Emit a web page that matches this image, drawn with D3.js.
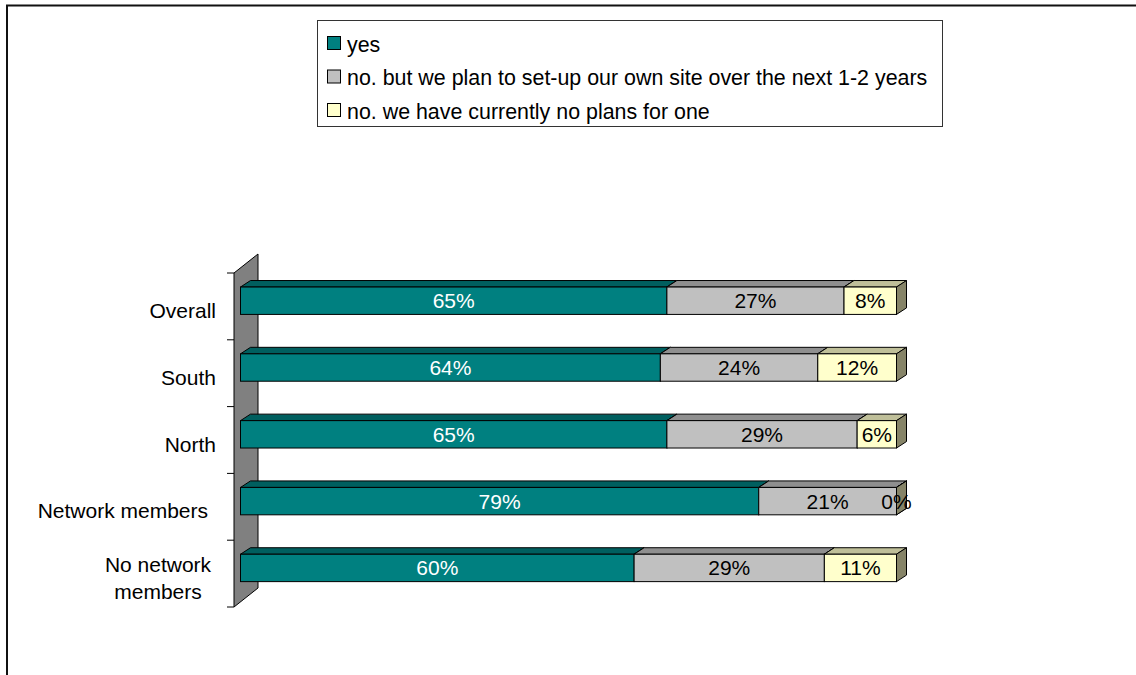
<!DOCTYPE html>
<html>
<head>
<meta charset="utf-8">
<script src="https://cdn.jsdelivr.net/npm/d3@7"></script>
<style>
  html, body { margin: 0; padding: 0; background: #fff; }
  svg { display: block; font-family: Arial, "Liberation Sans", sans-serif; }
</style>
</head>
<body>
<svg id="chart" width="1136" height="675"></svg>
<script>
// Survey: does the organisation have its own web site?
const categories = ["Overall", "South", "North", "Network members", "No network members"];
const seriesNames = [
  "yes",
  "no. but we plan to set-up our own site over the next 1-2 years",
  "no. we have currently no plans for one"
];
const yesValues     = [65, 64, 65, 79, 60];
const planValues    = [27, 24, 29, 21, 29];
const noPlanValues  = [8, 12, 6, 0, 11];

// face colours per series: front, top, side, label
const palette = [
  { front: "#008080", top: "#005f5f", side: "#004040", text: "#ffffff" },
  { front: "#c0c0c0", top: "#8f8f8f", side: "#7a7a7a", text: "#000000" },
  { front: "#ffffcc", top: "#bfbf99", side: "#868468", text: "#000000" }
];

const svg = d3.select("#chart");
const FONT = 21;
const LEGEND_FONT = 21.4;

// outer chart frame (top and left edges visible)
svg.append("line").attr("x1", 6).attr("x2", 1136).attr("y1", 5.5).attr("y2", 5.5)
  .attr("stroke", "#111").attr("stroke-width", 2);
svg.append("line").attr("x1", 7).attr("x2", 7).attr("y1", 5).attr("y2", 675)
  .attr("stroke", "#111").attr("stroke-width", 2);

// scales
const x = d3.scaleLinear().domain([0, 100]).range([240.5, 896.5]);
const y = d3.scaleBand().domain(categories).range([273, 607]);
const bw = y.bandwidth();
const barOffset = bw * 0.21;
const barH = bw * 0.41;
const depth = { dx: 10, dy: -6.5 };
const wallDepth = { dx: 24, dy: -19 };
const wallX = 234;

// side wall of the category axis
const wallTop = y.range()[0], wallBot = y.range()[1];
svg.append("polygon")
  .attr("points", [
    [wallX, wallTop], [wallX + wallDepth.dx, wallTop + wallDepth.dy],
    [wallX + wallDepth.dx, wallBot + wallDepth.dy], [wallX, wallBot]
  ].map(p => p.join(",")).join(" "))
  .attr("fill", "#808080").attr("stroke", "#000").attr("stroke-width", 1);

// tick marks at category boundaries
const tickYs = categories.map(c => y(c)).concat([wallBot]);
svg.selectAll("line.tick").data(tickYs).enter().append("line")
  .attr("class", "tick")
  .attr("x1", wallX - 7).attr("x2", wallX)
  .attr("y1", d => d).attr("y2", d => d)
  .attr("stroke", "#000").attr("stroke-width", 1);

// stacked rows
const seriesValues = [yesValues, planValues, noPlanValues];
const rows = categories.map((c, i) => {
  let acc = 0;
  return seriesValues.map((vals, s) => {
    const seg = { cat: c, s, v: vals[i], x0: acc, x1: acc + vals[i] };
    acc += vals[i];
    return seg;
  });
});

const pts = arr => arr.map(p => p.join(",")).join(" ");
const barsG = svg.append("g");
rows.forEach(row => {
  row.forEach(seg => {
    const xa = x(seg.x0), xb = x(seg.x1);
    const yt = y(seg.cat) + barOffset, yb = yt + barH;
    const col = palette[seg.s];
    const g = barsG.append("g");
    // top face
    g.append("polygon")
      .attr("points", pts([[xa, yt], [xa + depth.dx, yt + depth.dy], [xb + depth.dx, yt + depth.dy], [xb, yt]]))
      .attr("fill", col.top).attr("stroke", "#000").attr("stroke-width", 1).attr("stroke-linejoin", "round");
    // right side face
    g.append("polygon")
      .attr("points", pts([[xb, yt], [xb + depth.dx, yt + depth.dy], [xb + depth.dx, yb + depth.dy], [xb, yb]]))
      .attr("fill", col.side).attr("stroke", "#000").attr("stroke-width", 1).attr("stroke-linejoin", "round");
    // front face
    g.append("rect")
      .attr("x", xa).attr("y", yt).attr("width", Math.max(0, xb - xa)).attr("height", barH)
      .attr("fill", col.front).attr("stroke", "#000").attr("stroke-width", 1);
  });
});

// value labels centred on each front face
rows.forEach(row => {
  row.forEach(seg => {
    const yt = y(seg.cat) + barOffset;
    barsG.append("text")
      .attr("x", (x(seg.x0) + x(seg.x1)) / 2)
      .attr("y", yt + barH / 2)
      .attr("dy", "0.36em")
      .attr("text-anchor", "middle")
      .attr("font-size", FONT)
      .attr("fill", palette[seg.s].text)
      .text(seg.v + "%");
  });
});

// category labels
const catLabels = [
  { lines: ["Overall"], anchor: "end", x: 216 },
  { lines: ["South"], anchor: "end", x: 216 },
  { lines: ["North"], anchor: "end", x: 216 },
  { lines: ["Network members"], anchor: "end", x: 208 },
  { lines: ["No network", "members"], anchor: "middle", x: 158 }
];
categories.forEach((c, i) => {
  const lab = catLabels[i];
  const cy = y(c) + bw / 2 + 4;
  const lh = 27;
  const t = svg.append("text")
    .attr("text-anchor", lab.anchor)
    .attr("font-size", FONT)
    .attr("fill", "#000");
  lab.lines.forEach((ln, k) => {
    t.append("tspan")
      .attr("x", lab.x)
      .attr("y", cy + (k - (lab.lines.length - 1) / 2) * lh)
      .attr("dy", "0.36em")
      .text(ln);
  });
});

// legend
const legend = svg.append("g");
legend.append("rect")
  .attr("x", 317.5).attr("y", 20.5).attr("width", 625).attr("height", 106)
  .attr("fill", "#fff").attr("stroke", "#333").attr("stroke-width", 1);
seriesNames.forEach((name, i) => {
  const cy = 43 + i * 33.5;
  legend.append("rect")
    .attr("x", 327.5).attr("y", cy - 6.5).attr("width", 13).attr("height", 13)
    .attr("fill", palette[i].front).attr("stroke", "#000").attr("stroke-width", 1);
  legend.append("text")
    .attr("x", 347).attr("y", cy + 1).attr("dy", "0.36em")
    .attr("font-size", LEGEND_FONT).attr("fill", "#000")
    .text(name);
});
</script>
</body>
</html>
